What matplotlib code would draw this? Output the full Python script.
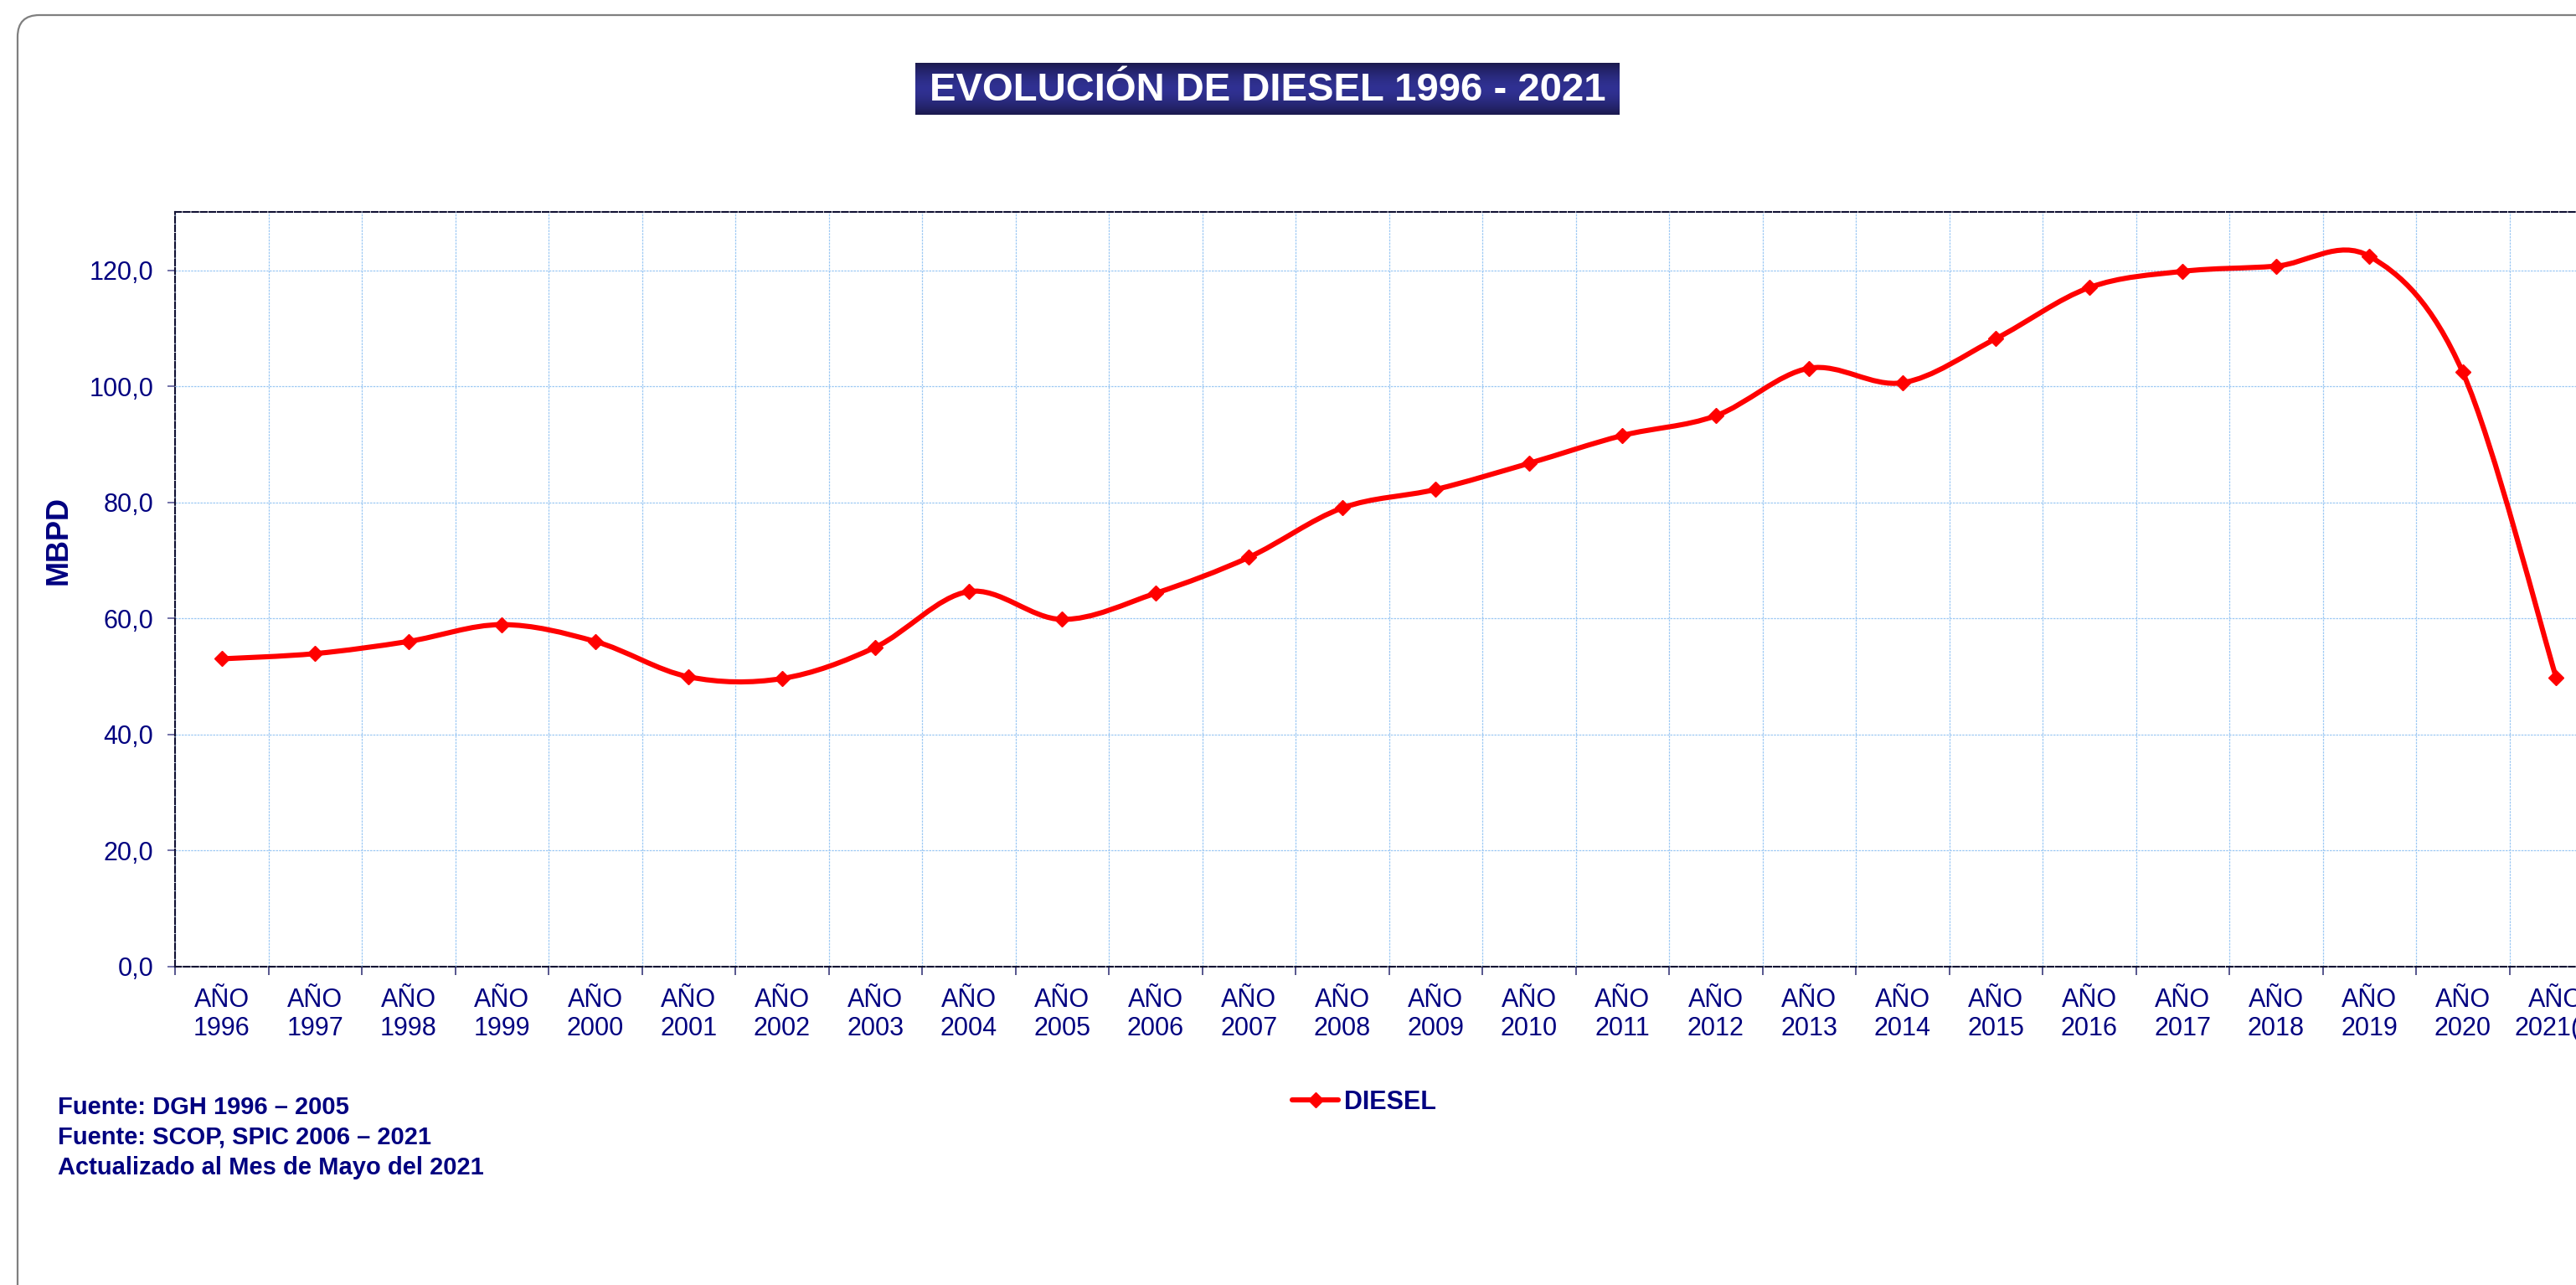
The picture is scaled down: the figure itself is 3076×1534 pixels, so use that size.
import matplotlib
matplotlib.use("Agg")
import matplotlib.pyplot as plt
import numpy as np
from matplotlib.path import Path
from matplotlib.patches import PathPatch, FancyBboxPatch
from matplotlib.lines import Line2D
from matplotlib.transforms import IdentityTransform

# ---------------- data ----------------
years = ["1996", "1997", "1998", "1999", "2000", "2001", "2002", "2003", "2004",
         "2005", "2006", "2007", "2008", "2009", "2010", "2011", "2012", "2013",
         "2014", "2015", "2016", "2017", "2018", "2019", "2020", "2021(*)"]
diesel = [53.0, 53.9, 56.0, 58.9, 56.0, 49.9, 49.6, 55.0, 64.6, 59.8, 64.3, 70.5,
          79.0, 82.2, 86.7, 91.5, 94.9, 103.1, 100.6, 108.2, 117.0, 119.8, 120.7,
          122.4, 102.4, 49.8]
y_ticks = [0, 20, 40, 60, 80, 100, 120]
title = "EVOLUCIÓN DE DIESEL 1996 - 2021"
series_name = "DIESEL"
ylabel = "MBPD"
footer = ["Fuente: DGH 1996 – 2005",
          "Fuente: SCOP, SPIC 2006 – 2021",
          "Actualizado al Mes de Mayo del 2021"]

NAVY = "#000080"
RED = "#FF0000"
GRID = "#9CC8F4"

plt.rcParams['font.family'] = ['Liberation Sans', 'DejaVu Sans']

W, H = 3076, 1534
fig = plt.figure(figsize=(W / 100, H / 100), dpi=100)
fig.patch.set_facecolor("white")

def fx(px):
    return px / W

def fy(py):
    return 1 - py / H

# outer rounded frame (extends past right/bottom edges)
frame = FancyBboxPatch((21, -60), W + 100, (H - 18) + 60,
                       boxstyle="round,pad=0,rounding_size=26",
                       transform=IdentityTransform(), facecolor="none",
                       edgecolor="#7f7f7f", linewidth=1.6, zorder=0)
fig.patches.append(frame)

# ---------------- main axes ----------------
n = len(years)
ax_left, ax_bottom_px, ax_top_px = 209, 1153.5, 253.3
cat_w = 111.5
ax = fig.add_axes([fx(ax_left), fy(ax_bottom_px), fx(n * cat_w), (ax_bottom_px - ax_top_px) / H])
ax.set_xlim(-0.5, n - 0.5)
ax.set_ylim(0, 130)
ax.set_facecolor("white")

x = np.arange(n)
y = np.array(diesel)

# smoothed line (Excel-like Bezier through the data points)
pts = np.column_stack([x, y])
verts = [tuple(pts[0])]
codes = [Path.MOVETO]
for i in range(n - 1):
    p0 = pts[i - 1] if i > 0 else pts[i]
    p1 = pts[i]
    p2 = pts[i + 1]
    p3 = pts[i + 2] if i + 2 < n else pts[i + 1]
    c1 = p1 + (p2 - p0) / 6.0
    c2 = p2 - (p3 - p1) / 6.0
    verts += [tuple(c1), tuple(c2), tuple(p2)]
    codes += [Path.CURVE4] * 3
curve = PathPatch(Path(verts, codes), facecolor="none", edgecolor=RED,
                  linewidth=4.4, capstyle="round", joinstyle="round",
                  transform=ax.transData, zorder=3)
ax.add_patch(curve)
ax.plot(x, y, linestyle="none", marker="D", markersize=9.5, color=RED,
        markeredgecolor=RED, zorder=4, clip_on=False)

# grid
ax.set_yticks(y_ticks)
ax.set_yticklabels([f"{v:.1f}".replace(".", ",") for v in y_ticks])
ax.set_xticks(np.arange(-0.5, n, 1.0))
ax.set_xticklabels([])
ax.set_xticks(x, minor=True)
ax.set_xticklabels([f"AÑO\n{yr}" for yr in years], minor=True)
ax.grid(True, which="major", color=GRID, linewidth=0.9, linestyle=(0, (2, 1)), zorder=1)
ax.set_axisbelow(True)

ax.tick_params(axis="y", which="major", length=6.5, width=1.2, color="#5a5a9a",
               labelsize=22, labelcolor=NAVY, pad=12, direction="out")
ax.tick_params(axis="x", which="major", length=7, width=1.2, color="#3a3a7a", direction="out")
ax.tick_params(axis="x", which="minor", length=0, labelsize=22, labelcolor=NAVY, pad=18)

for side in ["left", "top", "bottom"]:
    sp = ax.spines[side]
    sp.set_linestyle((0, (3.5, 1.4)))
    sp.set_linewidth(1.5)
    sp.set_color("#111133")
ax.spines["right"].set_visible(False)

# y label
fig.text(fx(70), fy(645), ylabel, rotation=90, ha="center", va="center",
         fontsize=26, fontweight="bold", color=NAVY)

# legend
handle = Line2D([], [], color=RED, linewidth=4.4, marker="D", markersize=9.5,
                solid_capstyle="round")
leg = fig.legend([handle], [series_name], loc="center",
                 bbox_to_anchor=(fx(1629), fy(1316)), frameon=False,
                 handlelength=1.8, handletextpad=0.2, borderpad=0,
                 prop={"size": 22, "weight": "bold"})
for t in leg.get_texts():
    t.set_color(NAVY)

# footer
for i, line in enumerate(footer):
    fig.text(fx(69), fy(1330 + 36 * i), line, ha="left", va="baseline",
             fontsize=21, fontweight="bold", color=NAVY)

# title box with vertical gradient
tx0, tx1, ty0, ty1 = 1093, 1934, 75, 137
tax = fig.add_axes([fx(tx0), fy(ty1), (tx1 - tx0) / W, (ty1 - ty0) / H])
tax.set_axis_off()
dark = np.array([0x1b, 0x1a, 0x4e]) / 255
mid = np.array([0x30, 0x31, 0x93]) / 255
t = np.linspace(0, 1, 100)
w = 1 - np.abs(2 * t - 1) ** 1.6
grad = dark[None, :] * (1 - w[:, None]) + mid[None, :] * w[:, None]
grad_img = np.repeat(grad[:, None, :], 2, axis=1)
tax.imshow(grad_img, aspect="auto", extent=[0, 1, 0, 1], interpolation="bilinear")
tax.set_xlim(0, 1)
tax.set_ylim(0, 1)
tax.text(0.5, (ty1 - 120) / (ty1 - ty0), title, ha="center", va="baseline",
         fontsize=34, fontweight="bold", color="white")

fig.savefig("out.png", dpi=100)
